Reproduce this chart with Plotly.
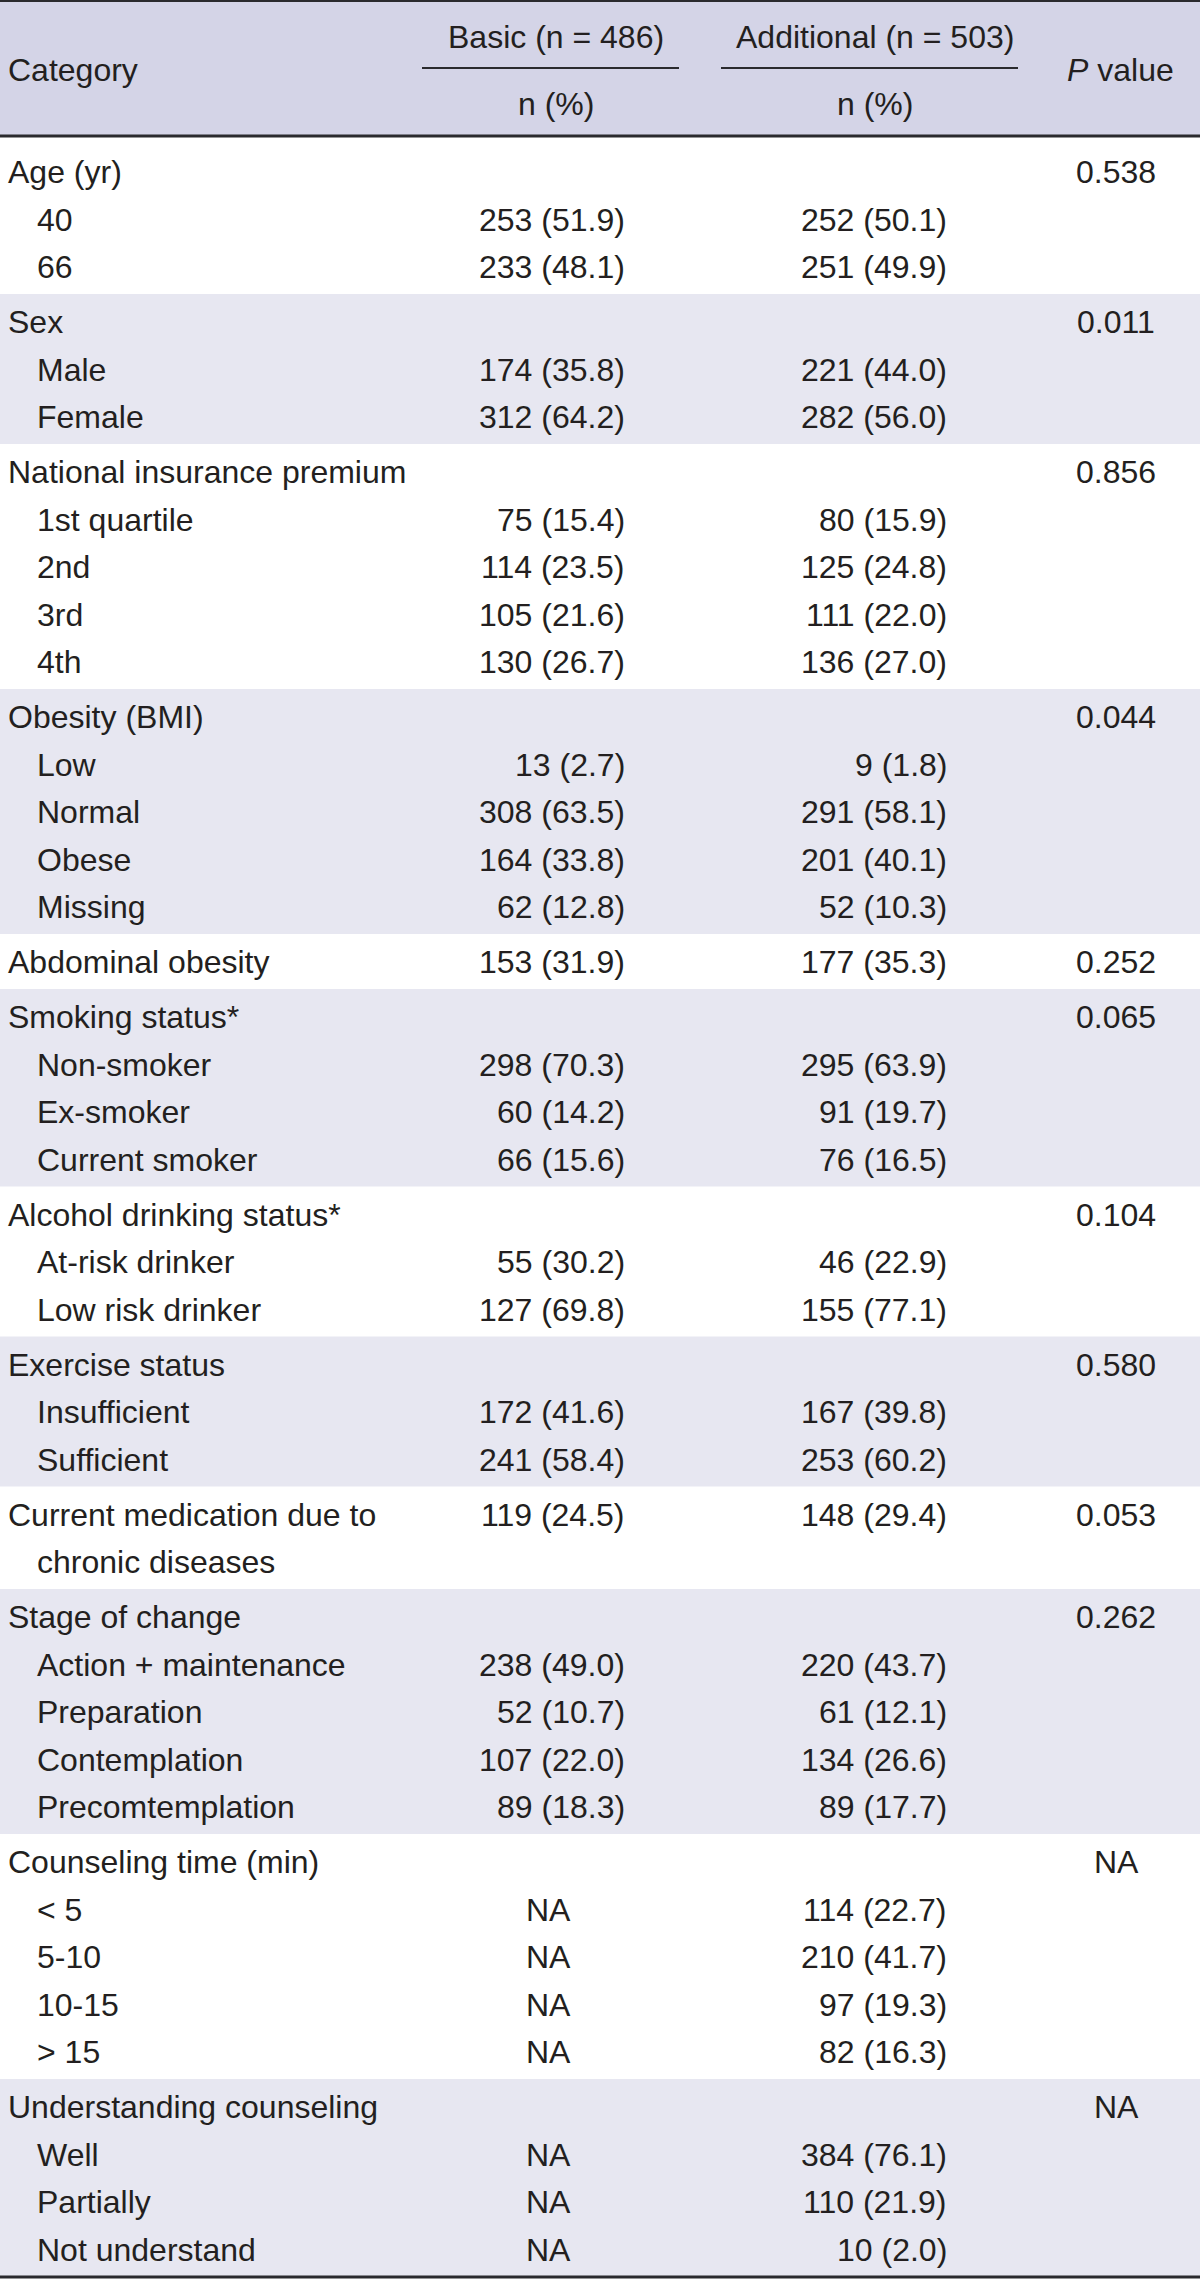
import plotly.graph_objects as go

# ---------------- data ----------------
group_labels = ["Age (yr)", "Sex", "National insurance premium", "Obesity (BMI)",
                "Abdominal obesity", "Smoking status*", "Alcohol drinking status*",
                "Exercise status", "Current medication due to", "Stage of change",
                "Counseling time (min)", "Understanding counseling"]
group_label_cont = ["", "", "", "", "", "", "", "", "chronic diseases", "", "", ""]
p_values = ["0.538", "0.011", "0.856", "0.044", "0.252", "0.065", "0.104",
            "0.580", "0.053", "0.262", "NA", "NA"]

group_basic_n = [None, None, None, None, 153, None, None, None, 119, None, None, None]
group_basic_pct = [None, None, None, None, 31.9, None, None, None, 24.5, None, None, None]
group_add_n = [None, None, None, None, 177, None, None, None, 148, None, None, None]
group_add_pct = [None, None, None, None, 35.3, None, None, None, 29.4, None, None, None]

sub_labels = [["40", "66"],
              ["Male", "Female"],
              ["1st quartile", "2nd", "3rd", "4th"],
              ["Low", "Normal", "Obese", "Missing"],
              [],
              ["Non-smoker", "Ex-smoker", "Current smoker"],
              ["At-risk drinker", "Low risk drinker"],
              ["Insufficient", "Sufficient"],
              [],
              ["Action + maintenance", "Preparation", "Contemplation", "Precomtemplation"],
              ["&lt; 5", "5-10", "10-15", "&gt; 15"],
              ["Well", "Partially", "Not understand"]]
sub_basic_n = [[253, 233], [174, 312], [75, 114, 105, 130], [13, 308, 164, 62], [],
               [298, 60, 66], [55, 127], [172, 241], [], [238, 52, 107, 89],
               [None, None, None, None], [None, None, None]]
sub_basic_pct = [[51.9, 48.1], [35.8, 64.2], [15.4, 23.5, 21.6, 26.7], [2.7, 63.5, 33.8, 12.8], [],
                 [70.3, 14.2, 15.6], [30.2, 69.8], [41.6, 58.4], [], [49.0, 10.7, 22.0, 18.3],
                 [None, None, None, None], [None, None, None]]
sub_add_n = [[252, 251], [221, 282], [80, 125, 111, 136], [9, 291, 201, 52], [],
             [295, 91, 76], [46, 155], [167, 253], [], [220, 61, 134, 89],
             [114, 210, 97, 82], [384, 110, 10]]
sub_add_pct = [[50.1, 49.9], [44.0, 56.0], [15.9, 24.8, 22.0, 27.0], [1.8, 58.1, 40.1, 10.3], [],
               [63.9, 19.7, 16.5], [22.9, 77.1], [39.8, 60.2], [], [43.7, 12.1, 26.6, 17.7],
               [22.7, 41.7, 19.3, 16.3], [76.1, 21.9, 2.0]]

header_labels = ["Category", "Basic (n = 486)", "Additional (n = 503)", "<i>P</i> value"]
sub_header = "n (%)"

# ---------------- style / layout ----------------
W, H = 1200, 2282
FONT = "Liberation Sans, Arial, sans-serif"
FS = 32
TXT = "#231f20"
HEAD_BG = "#d4d4e7"
BAND_BG = "#e7e7f1"
LINE = "#2a2a2e"

X_LABEL = 8
X_LABEL_SHIFT = -2
X_SUB = 35
X_BASIC_R = 627
X_BASIC_C = 556
X_BASIC_NA = 548
X_ADD_R = 949
X_ADD_C = 875
X_P = 1116

HEAD_BOTTOM = 136
BODY_END = 2277
LINE_H = 47.5
PAD_TOP = 3.5
PAD_BOT = 4.0
FIRST_EXTRA = 7
TEXT_DY = 1

shapes = []
annotations = []


def ann(x, y, text, anchor="left", size=FS, xshift=0):
    annotations.append(dict(x=x, y=y, xref="x", yref="y", text=text, showarrow=False,
                            xanchor=anchor, yanchor="middle", xshift=xshift,
                            font=dict(family=FONT, size=size, color=TXT)))


def fmt(n, p):
    return None if n is None else f"{n} ({p:.1f})"


# header background
shapes.append(dict(type="rect", x0=0, x1=W, y0=0, y1=HEAD_BOTTOM, xref="x", yref="y",
                   fillcolor=HEAD_BG, line=dict(width=0), layer="below"))

# body
y = HEAD_BOTTOM + 1
for gi, glabel in enumerate(group_labels):
    lines = [(glabel, X_LABEL, fmt(group_basic_n[gi], group_basic_pct[gi]),
              fmt(group_add_n[gi], group_add_pct[gi]), p_values[gi], "head")]
    if group_label_cont[gi]:
        lines.append((group_label_cont[gi], X_SUB, None, None, None, "cont"))
    for si, sl in enumerate(sub_labels[gi]):
        lines.append((sl, X_SUB, fmt(sub_basic_n[gi][si], sub_basic_pct[gi][si]),
                      fmt(sub_add_n[gi][si], sub_add_pct[gi][si]), None, "sub"))
    top = y
    extra = FIRST_EXTRA if gi == 0 else 0
    height = extra + PAD_TOP + LINE_H * len(lines) + PAD_BOT
    if gi % 2 == 1:
        shapes.append(dict(type="rect", x0=0, x1=W, y0=top, y1=top + height, xref="x", yref="y",
                           fillcolor=BAND_BG, line=dict(width=0), layer="below"))
    for li, (lab, lx, bv, av, pv, kind) in enumerate(lines):
        cy = top + extra + PAD_TOP + LINE_H * (li + 0.5) + TEXT_DY
        ann(lx, cy, lab, "left", xshift=X_LABEL_SHIFT if kind == "head" else 0)
        if kind == "sub":
            if bv is not None:
                ann(X_BASIC_R, cy, bv, "right")
            else:
                ann(X_BASIC_NA, cy, "NA", "center")
            if av is not None:
                ann(X_ADD_R, cy, av, "right")
        elif kind == "head":
            if bv is not None:
                ann(X_BASIC_R, cy, bv, "right")
            if av is not None:
                ann(X_ADD_R, cy, av, "right")
        if pv is not None:
            ann(X_P, cy, pv, "center")
    y = top + height

# header text
ann(X_LABEL, 70, header_labels[0], "left", xshift=X_LABEL_SHIFT)
ann(X_BASIC_C, 37, header_labels[1], "center")
ann(X_ADD_C, 37, header_labels[2], "center")
ann(X_P + 4, 70, header_labels[3], "center")
ann(X_BASIC_C, 104, sub_header, "center")
ann(X_ADD_C, 104, sub_header, "center")

# rules
shapes.append(dict(type="line", x0=0, x1=W, y0=1, y1=1, xref="x", yref="y",
                   line=dict(color=LINE, width=2)))
shapes.append(dict(type="line", x0=0, x1=W, y0=HEAD_BOTTOM, y1=HEAD_BOTTOM, xref="x", yref="y",
                   line=dict(color=LINE, width=3)))
shapes.append(dict(type="line", x0=422, x1=679, y0=68, y1=68, xref="x", yref="y",
                   line=dict(color=LINE, width=2)))
shapes.append(dict(type="line", x0=721, x1=1018, y0=68, y1=68, xref="x", yref="y",
                   line=dict(color=LINE, width=2)))
shapes.append(dict(type="line", x0=0, x1=W, y0=BODY_END, y1=BODY_END, xref="x", yref="y",
                   line=dict(color=LINE, width=3)))

fig = go.Figure()
fig.add_trace(go.Scatter(x=[0, W], y=[0, H], mode="markers", marker=dict(opacity=0),
                         hoverinfo="skip", showlegend=False))
fig.update_layout(
    width=W, height=H, margin=dict(l=0, r=0, t=0, b=0),
    paper_bgcolor="white", plot_bgcolor="white",
    xaxis=dict(range=[0, W], visible=False, fixedrange=True),
    yaxis=dict(range=[H, 0], visible=False, fixedrange=True),
    shapes=shapes, annotations=annotations, showlegend=False,
)
fig.write_html("out.html", config={"displayModeBar": False},
               post_script="document.body.style.margin='0';document.body.style.overflow='hidden';")
